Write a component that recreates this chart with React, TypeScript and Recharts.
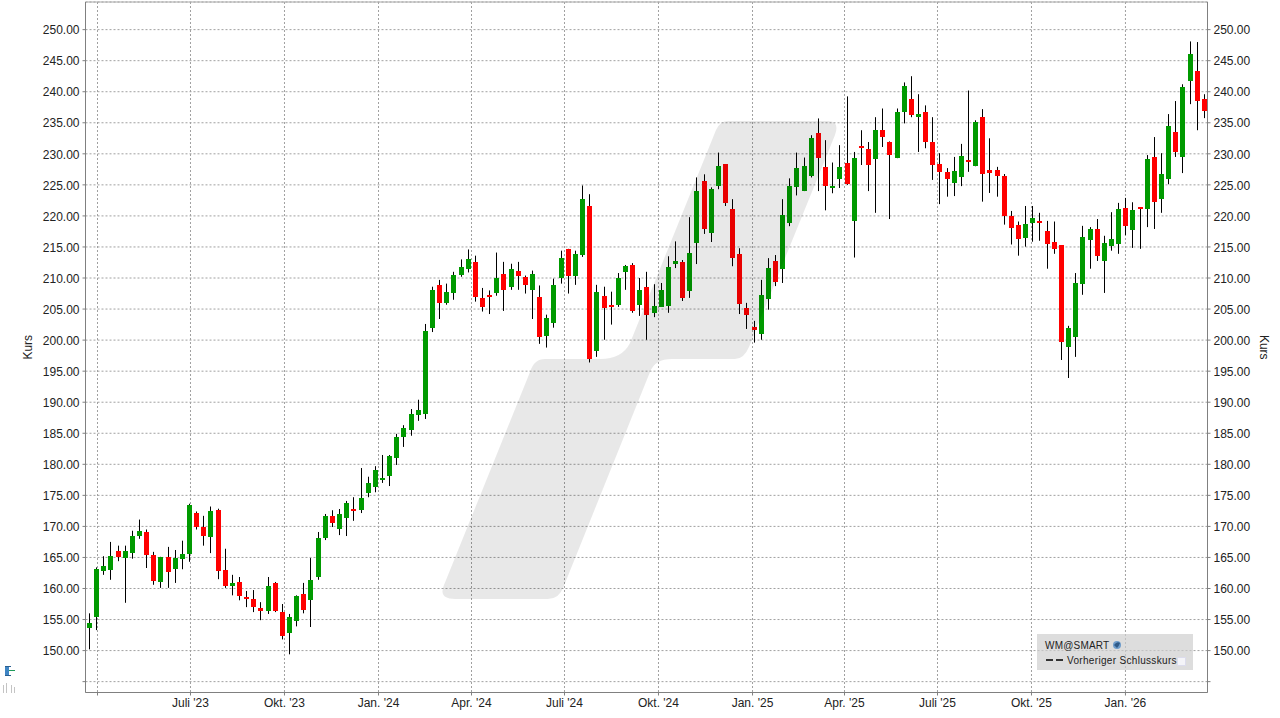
import React from 'react';
import { ComposedChart, Bar, XAxis, YAxis, CartesianGrid, ReferenceLine } from 'recharts';

const opens = [
  153.6,155.4,162.8,163.0,166.1,164.9,165.7,168.5,169.1,165.4,161.0,165.1,163.1,164.8,165.6,172.2,169.9,168.3,172.7,163.0,
  160.4,161.05,158.6,158.3,156.85,156.35,160.9,156.2,152.8,154.7,159.1,158.1,161.85,168.1,171.7,169.6,171.35,172.8,172.6,175.4,
  176.3,177.5,178.1,181.0,184.4,185.5,188.0,188.1,202.0,208.9,206.0,207.6,210.5,211.5,212.6,206.8,207.3,207.6,210.7,208.6,
  211.2,210.2,208.0,207.0,200.7,202.8,210.05,214.6,210.4,213.7,221.6,198.3,207.1,205.7,205.7,211.0,212.1,205.7,208.6,204.4,
  205.35,205.5,212.25,212.6,207.9,215.6,225.6,217.2,224.8,228.3,221.1,213.9,205.2,202.1,201.0,206.6,212.7,211.45,218.8,224.6,
  224.0,226.5,233.4,227.8,224.5,225.9,228.5,219.2,231.2,230.8,229.15,233.8,231.9,229.3,236.7,238.9,235.9,236.7,231.9,228.35,
  227.1,225.3,226.3,229.0,228.0,235.9,227.4,227.4,226.4,220.0,218.6,216.5,218.9,219.2,217.5,215.85,215.3,198.9,200.5,209.05,
  216.1,217.9,212.75,215.2,215.5,221.3,217.7,221.4,221.1,229.5,222.7,225.9,233.5,229.5,241.7,243.3,238.8,
];
const closes = [
  154.4,163.1,163.6,165.2,165.0,166.1,168.5,169.3,165.4,161.2,165.0,162.7,164.9,165.6,173.5,169.9,168.5,172.4,162.8,160.4,
  160.9,158.8,158.3,157.0,156.35,160.4,156.35,152.3,155.4,158.8,156.5,161.4,168.15,171.7,170.5,172.0,173.8,172.5,174.6,177.0,
  179.1,177.8,181.3,184.4,185.9,188.1,188.8,201.5,208.1,205.9,207.8,210.5,211.8,213.1,207.0,205.4,207.0,210.05,208.0,211.5,
  210.4,208.8,210.7,200.5,203.6,208.9,213.3,210.4,213.8,222.7,197.0,207.8,205.2,205.35,210.0,211.9,204.7,208.1,204.1,205.5,
  208.1,211.8,212.7,206.8,214.0,224.0,217.9,224.3,228.1,222.0,213.2,205.8,204.1,201.7,207.3,211.6,209.4,220.1,224.8,227.7,
  228.0,232.6,229.4,224.8,224.8,227.8,225.15,229.3,230.9,228.2,233.8,232.7,229.8,236.7,240.85,236.2,236.4,231.9,228.2,227.1,
  225.95,227.2,229.6,228.7,235.1,226.75,226.9,226.4,220.0,218.1,216.3,218.7,219.7,218.9,215.5,214.7,199.7,202.0,209.2,216.6,
  217.9,213.55,215.6,216.3,221.1,218.4,220.95,221.1,229.15,222.2,226.7,234.5,230.3,240.7,246.05,238.5,236.9,
];
const highs = [
  156.0,163.4,165.2,167.5,166.9,166.9,169.3,171.1,169.5,165.9,165.1,166.7,166.2,167.7,173.65,172.4,171.7,173.2,172.85,166.4,
  162.2,161.85,159.6,159.75,157.8,161.85,161.05,157.5,155.9,158.9,160.9,164.9,169.1,172.0,172.6,172.8,174.1,174.7,179.4,178.0,
  179.7,181.5,181.5,184.9,186.3,188.9,190.4,202.6,208.6,209.7,209.1,211.0,213.0,214.6,213.6,208.4,208.0,214.1,212.6,212.3,
  212.6,210.4,211.2,208.8,204.1,209.9,214.4,214.7,214.4,224.9,223.5,208.9,208.6,207.8,210.8,212.1,212.4,210.0,211.0,209.0,
  209.2,213.5,215.9,212.9,219.8,226.2,226.7,224.6,230.2,228.3,222.7,214.8,206.0,203.1,209.7,213.2,213.7,222.7,226.05,230.2,
  229.4,233.0,235.7,232.2,228.6,231.4,239.25,230.3,233.8,231.9,235.9,237.3,232.0,237.3,241.5,242.5,239.6,237.8,235.9,230.1,
  227.7,229.5,231.6,240.2,235.4,237.2,232.5,227.9,226.75,220.8,219.1,221.6,221.6,220.5,219.2,219.1,215.3,202.3,210.8,218.4,
  218.2,219.5,216.8,220.6,222.1,222.9,222.2,221.4,229.8,232.7,230.1,236.4,238.5,241.2,248.1,248.0,239.6,
];
const lows = [
  150.2,153.3,162.2,161.4,164.4,157.7,164.8,168.0,163.3,160.6,160.1,160.1,160.9,163.1,164.3,169.5,166.9,165.7,161.5,160.1,
  158.9,158.1,157.0,156.2,154.9,155.9,156.2,151.8,149.4,153.9,156.0,153.8,161.4,167.8,169.9,168.6,168.45,170.9,172.15,174.7,
  175.5,177.0,176.5,179.9,182.8,184.6,187.0,187.3,201.3,203.4,205.7,206.5,210.2,210.9,206.2,204.6,204.2,207.15,204.7,208.1,
  208.1,207.5,203.4,199.4,198.8,202.0,209.1,207.5,208.9,213.4,196.4,197.3,200.05,202.5,205.35,208.1,204.4,203.9,200.05,203.7,
  205.35,204.4,211.6,206.3,206.8,212.25,217.1,215.8,224.3,221.6,211.9,204.2,201.8,199.6,200.05,204.9,208.7,209.2,218.35,223.3,
  224.0,226.2,224.0,220.9,223.65,224.5,225.0,213.3,228.2,224.0,220.5,231.1,219.5,229.3,234.9,235.9,230.3,230.9,225.8,221.9,
  223.1,223.2,224.8,227.1,228.0,222.3,223.7,223.1,218.6,215.4,213.6,215.05,215.85,216.0,211.5,213.9,196.8,193.9,197.3,207.3,
  211.5,212.75,207.6,214.4,213.9,216.9,214.85,214.7,218.2,217.9,220.5,225.1,229.5,226.9,238.0,233.8,235.75,
];

const tickWeeks = [1.12, 14.13, 27.28, 40.44, 53.45, 66.46, 79.61, 92.77, 105.64, 118.65, 131.8, 144.95];
const tickLabels = ['', "Juli '23", "Okt. '23", "Jan. '24", "Apr. '24", "Juli '24", "Okt. '24", "Jan. '25", "Apr. '25", "Juli '25", "Okt. '25", "Jan. '26"];
const priceTicks = [145,150,155,160,165,170,175,180,185,190,195,200,205,210,215,220,225,230,235,240,245,250];
const priceRange = [143.25, 254.45];

const table = opens.map((open, i) => ({ week: i, open, close: closes[i], high: highs[i], low: lows[i] }));

const FONT = '"Liberation Sans", Arial, sans-serif';
const GREEN = '#009a00';
const RED = '#ff0000';

function Candle(props: any) {
  const { x, y, width, height, payload } = props;
  const { open, close, high, low } = payload;
  const k = height / (high - low);
  const px = Math.floor(x + width / 2);
  const t = Math.round(y + (high - Math.max(open, close)) * k);
  const b = Math.round(y + (high - Math.min(open, close)) * k);
  return (
    <g>
      <rect x={px} y={y} width={1} height={height} fill="#000" />
      <rect x={px - 2} y={t} width={5} height={Math.max(b - t, 2)} fill={close >= open ? GREEN : RED} />
    </g>
  );
}

function PriceTick(props: any) {
  const { x, y, payload, textAnchor } = props;
  const label = payload.value === 145 ? '' : payload.value.toFixed(2);
  return (
    <text x={x} y={y + 4.7} textAnchor={textAnchor} fill="#222" fontSize={12} fontFamily={FONT}>
      {label}
    </text>
  );
}

export default function App() {
  return (
    <div style={{ position: 'absolute', left: 0, top: 0, width: 1280, height: 718, background: '#fff', overflow: 'hidden' }}>
      <ComposedChart
        width={1280}
        height={718}
        data={table}
        margin={{ top: 2, right: 0, bottom: 0, left: 0 }}
      >
        <CartesianGrid yAxisId="left" stroke="#a0a0a0" strokeDasharray="2 2" />
        <XAxis
          dataKey="week"
          type="number"
          domain={[-0.56, 156.43]}
          allowDataOverflow
          ticks={tickWeeks}
          interval={0}
          height={25.5}
          tickSize={3}
          tickMargin={3}
          stroke="#808080"
          tick={{ fill: '#222', fontSize: 12, fontFamily: FONT }}
          tickFormatter={(v: number) => tickLabels[tickWeeks.indexOf(v)] ?? ''}
        />
        <YAxis
          yAxisId="left"
          width={85.5}
          domain={priceRange}
          allowDataOverflow
          ticks={priceTicks}
          interval={0}
          tickSize={3}
          tickMargin={3}
          stroke="#808080"
          tick={PriceTick}
          label={{ value: 'Kurs', angle: -90, position: 'insideLeft', offset: 28, style: { fill: '#222', fontSize: 12, fontFamily: FONT, textAnchor: 'middle' } }}
        />
        <YAxis
          yAxisId="right"
          orientation="right"
          width={72.5}
          domain={priceRange}
          allowDataOverflow
          ticks={priceTicks}
          interval={0}
          tickSize={3}
          tickMargin={3}
          stroke="#808080"
          tick={PriceTick}
          label={{ value: 'Kurs', angle: 90, position: 'insideRight', offset: 16, style: { fill: '#222', fontSize: 12, fontFamily: FONT, textAnchor: 'middle' } }}
        />
        <ReferenceLine yAxisId="left" y={priceRange[1]} stroke="#aaaaaa" />
        <Bar
          yAxisId="left"
          dataKey={(d: any) => [d.low, d.high]}
          barSize={5}
          shape={Candle}
          isAnimationActive={false}
        />
      </ComposedChart>

      {/* Watermark laid over the chart, so it darkens the candles beneath it */}
      <svg width={1280} height={718} style={{ position: 'absolute', left: 0, top: 0, pointerEvents: 'none' }}>
        <path
          d="M455 599 L548 599 Q559 599 563.5 587 L650 372 Q655 359 672 359 L735 359 Q744 359 749 347 L835 135 Q840 121 828 121 L728 121 Q720 121 716 130 L630 343 Q622 359 600 359 L545 359 Q534 359 530 372 L444 585 Q438 599 455 599 Z"
          fill="rgba(0,0,0,0.09)"
        />
        {/* Legend */}
        <rect x={1037} y={634} width={156} height={36} fill="rgba(205,205,205,0.68)" />
        <text x={1045} y={649} fontFamily={FONT} fontSize={10} letterSpacing={0.2} fill="#222">WM@SMART</text>
        <circle cx={1117} cy={645} r={4} fill="#6d9ccb" />
        <path d="M1114 645 q3 -4 6 -2 q-1 3 -3 5 z" fill="#2f5a88" />
        <rect x={1046} y={659} width={7} height={2} fill="#333" />
        <rect x={1056} y={659} width={7} height={2} fill="#333" />
        <text x={1067} y={664} fontFamily={FONT} fontSize={10} letterSpacing={0.32} fill="#222">Vorheriger Schlusskurs</text>
        <rect x={1177.5} y={657.5} width={8} height={8} fill="#f4f4f8" stroke="#dcdcec" />
        {/* Small tool icon at the lower left */}
        <rect x={5} y={666} width={4} height={10} fill="#3f85c4" />
        <rect x={5} y={666} width={6} height={1} fill="#2a5f90" />
        <rect x={5} y={675} width={6} height={1} fill="#2a5f90" />
        <rect x={9} y={670} width={6} height={1} fill="#1e9a5a" />
        <rect x={3} y={685} width={1} height={8} fill="#c4c4c4" />
        <rect x={6} y={683} width={1} height={10} fill="#c4c4c4" />
        <rect x={11} y={685} width={1} height={8} fill="#c4c4c4" />
        <rect x={14} y={687} width={1} height={6} fill="#c4c4c4" />
      </svg>
    </div>
  );
}
